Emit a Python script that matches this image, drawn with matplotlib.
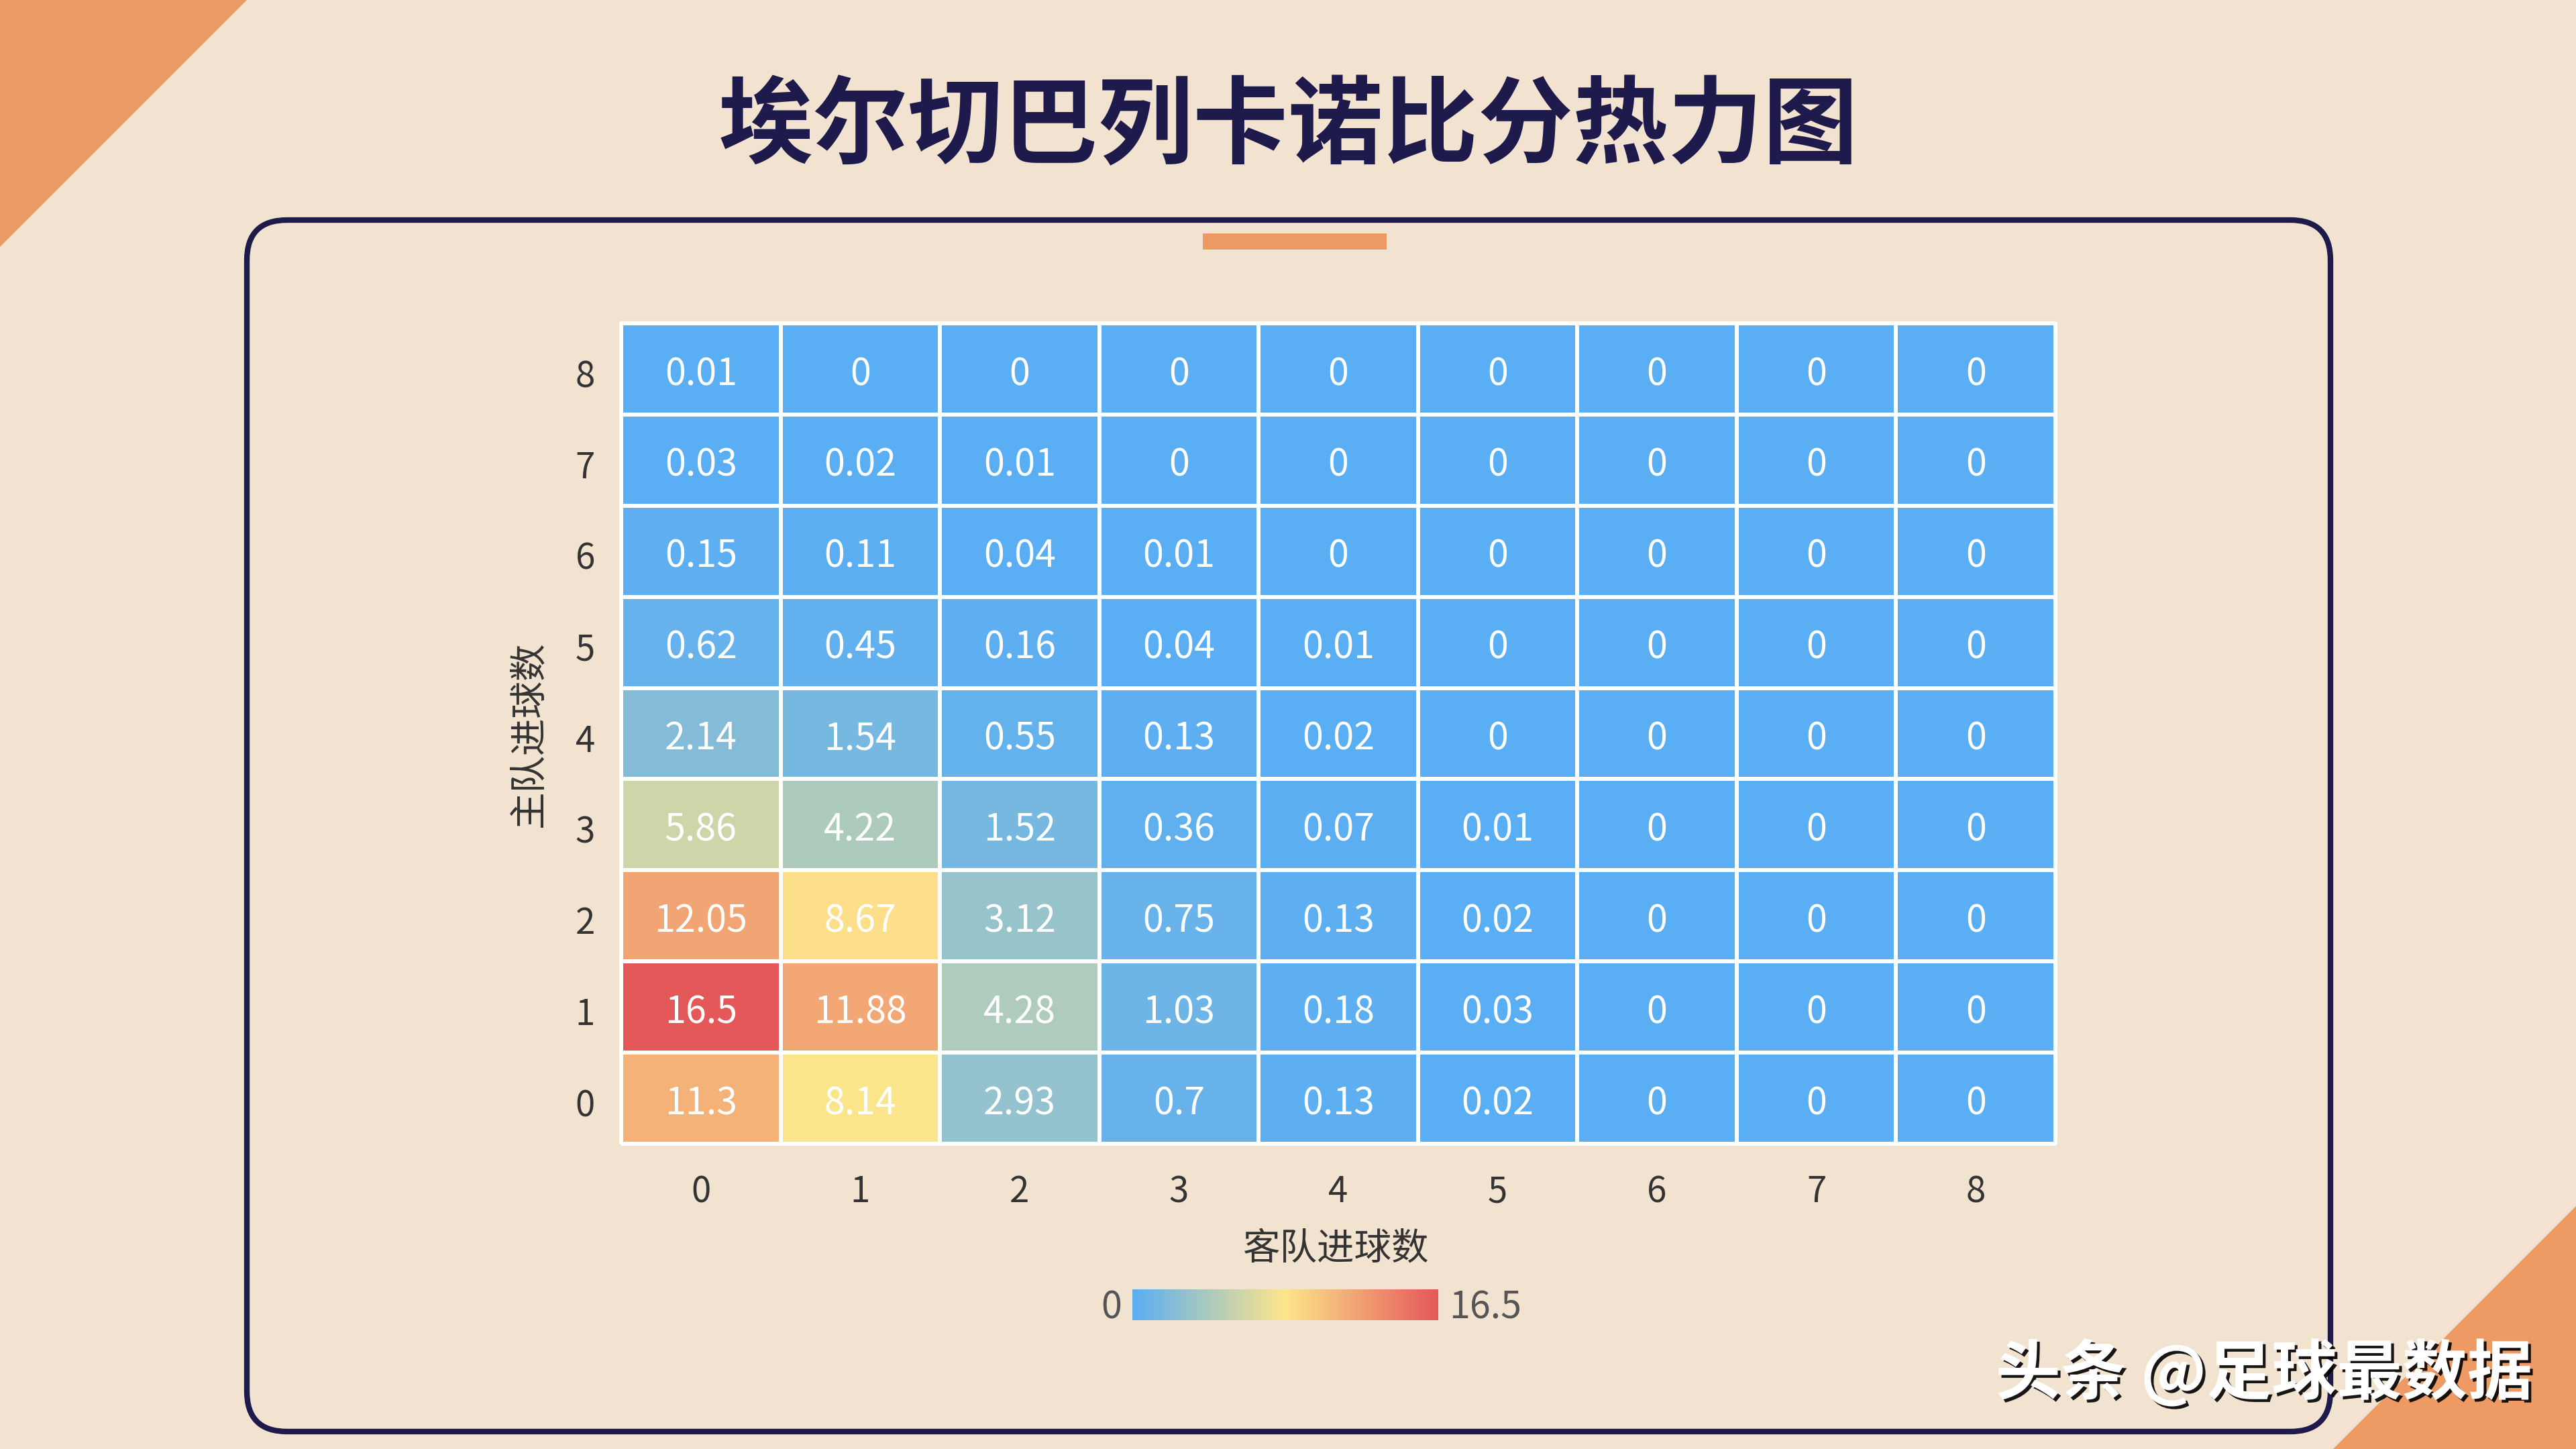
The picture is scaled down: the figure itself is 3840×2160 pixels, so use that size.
import numpy as np
import matplotlib
matplotlib.use("Agg")
import matplotlib.pyplot as plt
from matplotlib.colors import LinearSegmentedColormap
from matplotlib.patches import Polygon, FancyBboxPatch, Rectangle
import matplotlib.patheffects as pe
import matplotlib.transforms as mtransforms

plt.rcParams['font.family'] = ['Noto Sans CJK SC', 'DejaVu Sans']

# ---------------- data ----------------
title = "埃尔切巴列卡诺比分热力图"
xlabel = "客队进球数"
ylabel = "主队进球数"
watermark = "头条 @足球最数据"
away_goals = ["0", "1", "2", "3", "4", "5", "6", "7", "8"]
home_goals = ["0", "1", "2", "3", "4", "5", "6", "7", "8"]
home0 = [11.3, 8.14, 2.93, 0.7, 0.13, 0.02, 0, 0, 0]
home1 = [16.5, 11.88, 4.28, 1.03, 0.18, 0.03, 0, 0, 0]
home2 = [12.05, 8.67, 3.12, 0.75, 0.13, 0.02, 0, 0, 0]
home3 = [5.86, 4.22, 1.52, 0.36, 0.07, 0.01, 0, 0, 0]
home4 = [2.14, 1.54, 0.55, 0.13, 0.02, 0, 0, 0, 0]
home5 = [0.62, 0.45, 0.16, 0.04, 0.01, 0, 0, 0, 0]
home6 = [0.15, 0.11, 0.04, 0.01, 0, 0, 0, 0, 0]
home7 = [0.03, 0.02, 0.01, 0, 0, 0, 0, 0, 0]
home8 = [0.01, 0, 0, 0, 0, 0, 0, 0, 0]
vmin, vmax = 0, 16.5

# ---------------- style ----------------
BG = '#f2e3d0'
ORANGE = '#ee9a65'
NAVY = '#1e1a4b'
TXT = '#333333'
cmap = LinearSegmentedColormap.from_list('score', ['#5aaef3', '#fde68a', '#e5585a'])

W, H = 3840, 2160
fig = plt.figure(figsize=(W / 100, H / 100), dpi=100)
fig.patch.set_facecolor(BG)

# background / decoration layer in pixel coordinates
bg = fig.add_axes([0, 0, 1, 1], zorder=0)
bg.set_xlim(0, W)
bg.set_ylim(H, 0)
bg.axis('off')
bg.add_patch(Polygon([[0, 0], [368, 0], [0, 368]], closed=True, color=ORANGE, lw=0))
bg.add_patch(Polygon([[W, 1798], [W, H], [3478, H]], closed=True, color=ORANGE, lw=0))
bg.add_patch(FancyBboxPatch((368, 328), 3474 - 368, 2134 - 328,
                            boxstyle="round,pad=0,rounding_size=60",
                            fill=False, ec=NAVY, lw=6))
bg.add_patch(Rectangle((1793, 348), 2067 - 1793, 24, color=ORANGE, lw=0))
bg.text(1920, 191, title, ha='center', va='center', fontsize=102,
        fontweight='black', color=NAVY)

# ---------------- heatmap ----------------
Z = np.array([home0, home1, home2, home3, home4, home5, home6, home7, home8])
left, right, top, bottom = 926, 3064, 482, 1705
ax = fig.add_axes([left / W, 1 - bottom / H, (right - left) / W, (bottom - top) / H], zorder=2)
ax.set_facecolor('none')
mesh = ax.pcolormesh(np.arange(len(away_goals) + 1) - 0.5, np.arange(len(home_goals) + 1) - 0.5,
                     Z, cmap=cmap, vmin=vmin, vmax=vmax, edgecolors='white', linewidth=3)
mesh.set_clip_on(False)
ax.set_xlim(-0.5, len(away_goals) - 0.5)
ax.set_ylim(-0.5, len(home_goals) - 0.5)
txt_tr = mtransforms.offset_copy(ax.transData, fig=fig, x=0, y=-6, units='points')
for i in range(Z.shape[0]):
    for j in range(Z.shape[1]):
        ax.text(j, i, '{:g}'.format(Z[i, j]), ha='center', va='center',
                color='white', fontsize=40, transform=txt_tr)
ax.set_xticks(range(len(away_goals)))
ax.set_xticklabels(away_goals)
ax.set_yticks(range(len(home_goals)))
ax.set_yticklabels(home_goals)
ax.tick_params(axis='both', length=0, labelsize=38, labelcolor=TXT)
ax.tick_params(axis='x', pad=32)
ax.tick_params(axis='y', pad=28)
for lbl in ax.get_yticklabels():
    lbl.set_transform(lbl.get_transform() + mtransforms.ScaledTranslation(0, -4 / 72, fig.dpi_scale_trans))
for s in ax.spines.values():
    s.set_visible(False)

bg.text(1991, 1862, xlabel, ha='center', va='center', fontsize=40, color=TXT)
bg.text(789, 1094, ylabel, ha='center', va='center', fontsize=40, color=TXT, rotation=90)

# ---------------- colour bar ----------------
cax = fig.add_axes([1688 / W, 1 - 1968 / H, (2144 - 1688) / W, 46 / H], zorder=2)
grad = np.linspace(vmin, vmax, 256).reshape(1, -1)
cax.imshow(grad, cmap=cmap, vmin=vmin, vmax=vmax, aspect='auto',
           extent=[vmin, vmax, 0, 1])
cax.axis('off')
bg.text(1672, 1950, '{:g}'.format(vmin), ha='right', va='center', fontsize=40, color='#555555')
bg.text(2160, 1950, '{:g}'.format(vmax), ha='left', va='center', fontsize=40, color='#555555')

# ---------------- watermark ----------------
bg.text(3375, 2048, watermark, ha='center', va='center', fontsize=70, color='white',
        fontweight='bold', zorder=5,
        path_effects=[pe.withSimplePatchShadow(offset=(3, -3), shadow_rgbFace='black', alpha=0.9)])

fig.savefig('out.png', dpi=100, facecolor=BG)
